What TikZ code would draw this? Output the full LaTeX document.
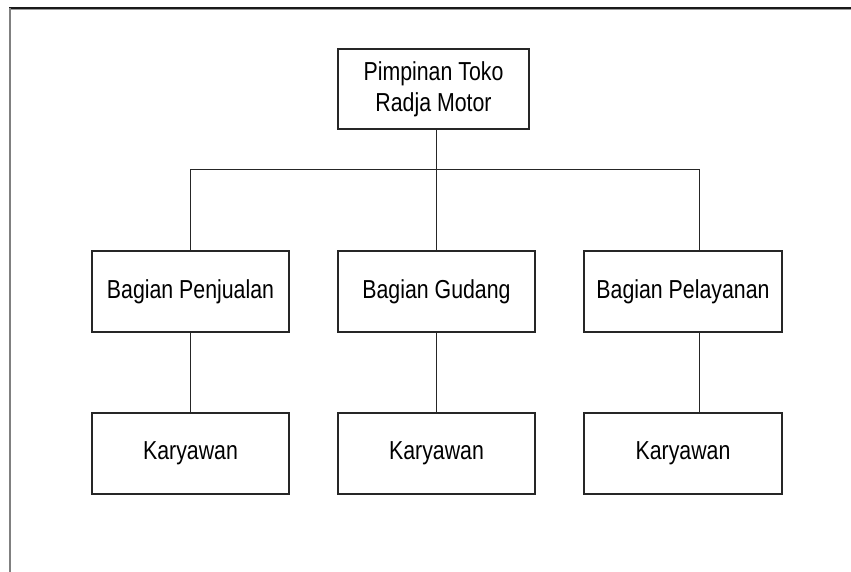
\documentclass[tikz,border=0pt]{standalone}
\usepackage{fontspec}
\setmainfont{Liberation Sans}[FakeStretch=0.82]
\begin{document}
\begin{tikzpicture}[x=1pt,y=1pt,
  box/.style={draw=black!85,line width=1.3pt,minimum width=197pt,minimum height=81pt,inner sep=0pt,align=center,
    font=\fontsize{26}{31}\selectfont},
  conn/.style={draw=black!85,line width=1pt}]
\useasboundingbox (0,0) rectangle (851,-572);
\draw[line width=2pt,black!90] (9,-8) -- (851,-8);
\draw[line width=1pt,black!40] (9,-9.5) -- (851,-9.5);
\draw[line width=2pt,black!50] (10,-8) -- (10,-572);
\node[box,minimum width=191pt,minimum height=80pt] (top) at (433.5,-89) {Pimpinan Toko\\Radja Motor};
\node[box] (pen) at (190.5,-291.5) {Bagian Penjualan};
\node[box] (gud) at (436.5,-291.5) {Bagian Gudang};
\node[box,minimum width=198pt] (pel) at (683,-291.5) {Bagian Pelayanan};
\node[box] (k1) at (190.5,-453.5) {Karyawan};
\node[box] (k2) at (436.5,-453.5) {Karyawan};
\node[box,minimum width=198pt] (k3) at (683,-453.5) {Karyawan};
\coordinate (bus) at (436.5,-170);
\coordinate (pr) at ([xshift=16pt]pel.north);
\coordinate (kr) at ([xshift=16pt]k3.north);
\draw[conn] (top.south -| bus) -- (bus);
\draw[conn] (pen.north) |- (pr |- bus) -- (pr);
\draw[conn] (gud.north) -- (bus);
\draw[conn] (pen.south) -- (k1.north);
\draw[conn] (gud.south) -- (k2.north);
\draw[conn] (pr |- pel.south) -- (kr);
\end{tikzpicture}
\end{document}
